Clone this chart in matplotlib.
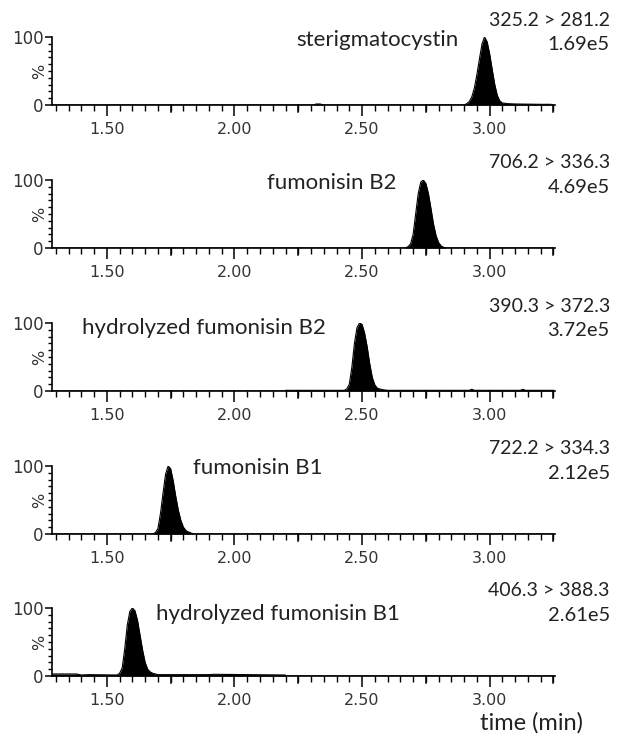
import numpy as np
from matplotlib import pyplot as plt
from matplotlib.ticker import MultipleLocator, FixedLocator

# traces (time in min, intensity in %)
t_ster = [1.285, 2.31, 2.32, 2.335, 2.35, 2.90, 2.91, 2.92, 2.93, 2.94, 2.95, 2.96, 2.97, 2.98,
          2.99, 3.00, 3.01, 3.02, 3.03, 3.04, 3.05, 3.07, 3.10, 3.20, 3.24]
i_ster = [0, 0, 1.5, 1.5, 0, 0, 2, 5, 12, 25, 45, 68, 90, 100,
          93, 75, 52, 30, 14, 6, 3, 2, 1.5, 1, 1]

t_fb2 = [1.285, 2.67, 2.68, 2.69, 2.70, 2.71, 2.72, 2.73, 2.74, 2.75, 2.76, 2.77,
         2.78, 2.79, 2.80, 2.81, 2.82, 2.83, 3.24]
i_fb2 = [0, 0, 2, 6, 20, 50, 80, 97, 100, 95, 80, 58,
         35, 18, 8, 3, 1, 0, 0]

t_hfb2 = [1.285, 2.199, 2.20, 2.43, 2.44, 2.45, 2.46, 2.47, 2.48, 2.49, 2.50, 2.51, 2.52,
          2.53, 2.54, 2.55, 2.56, 2.58, 2.60, 2.92, 2.93, 2.94, 3.12, 3.13, 3.14, 3.25]
i_hfb2 = [0, 0, 1, 1, 3, 10, 35, 70, 93, 100, 98, 85, 65,
          40, 20, 9, 4, 2, 1, 1, 2.5, 1, 1, 2.5, 1, 1]

t_fb1 = [1.285, 1.68, 1.69, 1.70, 1.71, 1.72, 1.73, 1.74, 1.75, 1.76, 1.77, 1.78,
         1.79, 1.80, 1.81, 1.82, 1.84, 3.24]
i_fb1 = [0, 0, 2, 8, 30, 60, 88, 100, 96, 78, 55, 35,
         20, 10, 5, 3, 0, 0]

t_hfb1 = [1.285, 1.38, 1.40, 1.43, 1.54, 1.55, 1.56, 1.57, 1.58, 1.59, 1.60, 1.61, 1.62,
          1.63, 1.64, 1.65, 1.66, 1.67, 1.68, 1.70, 1.72, 1.90, 1.92, 2.199, 2.20, 3.24]
i_hfb1 = [3, 3, 1.5, 2, 1.5, 4, 12, 40, 75, 95, 100, 96, 82,
          60, 38, 20, 10, 6, 4, 2, 2, 2, 2.5, 1.5, 0, 0]

names = ['sterigmatocystin', 'fumonisin B2', 'hydrolyzed fumonisin B2',
         'fumonisin B1', 'hydrolyzed fumonisin B1']
transitions = ['325.2 > 281.2', '706.2 > 336.3', '390.3 > 372.3',
               '722.2 > 334.3', '406.3 > 388.3']
intensities = ['1.69e5', '4.69e5', '3.72e5', '2.12e5', '2.61e5']
traces = [(t_ster, i_ster), (t_fb2, i_fb2), (t_hfb2, i_hfb2), (t_fb1, i_fb1), (t_hfb1, i_hfb1)]

# label placement in axes fraction (x left, y centre)
name_pos = [(0.485, 0.956), (0.427, 0.956), (0.060, 0.926), (0.280, 0.97), (0.207, 0.91)]
bottoms = [105, 248, 391, 534, 676]

txtfont = 'Lato'
txtcol = '#222222'

fig = plt.figure(figsize=(6.34, 7.36), dpi=100)

for k in range(5):
    b = 1 - bottoms[k] / 736
    ax = fig.add_axes([52 / 634, b, 503 / 634, 68 / 736])
    t, y = traces[k]
    ax.fill_between(t, 0, y, color='black', lw=0)
    ax.plot(t, y, color='black', lw=0.8)
    ax.set_xlim(1.285, 3.256)
    ax.set_ylim(0, 100)
    for s in ['top', 'right']:
        ax.spines[s].set_visible(False)
    for s in ['left', 'bottom']:
        ax.spines[s].set_linewidth(1.2)
    ax.xaxis.set_major_locator(FixedLocator([1.50, 2.00, 2.50, 3.00]))
    ax.xaxis.set_minor_locator(MultipleLocator(0.05))
    ax.set_xticklabels(['1.50', '2.00', '2.50', '3.00'])
    ax.yaxis.set_major_locator(FixedLocator([0, 100]))
    ax.yaxis.set_minor_locator(MultipleLocator(10))
    ax.set_yticklabels(['0', '100'])
    ax.tick_params(axis='x', which='major', length=8, width=1.1, labelsize=11.5, pad=4)
    ax.tick_params(axis='x', which='minor', length=4, width=1.0)
    ax.tick_params(axis='y', which='major', length=5, width=1.1, labelsize=12, pad=1)
    ax.tick_params(axis='y', which='minor', length=3, width=1.0)
    # longer ticks at each quarter minute
    for q in [1.75, 2.25, 2.75, 3.25]:
        ax.plot([q, q], [0, -11], color='black', lw=1.1, clip_on=False)
    for lab in ax.get_xticklabels() + ax.get_yticklabels():
        lab.set_family('DejaVu Sans')
        lab.set_color('#333333')
    ax.text(-0.024, 0.5, '%', transform=ax.transAxes, rotation=90, ha='center', va='center',
            fontsize=11.5, color='#333333')
    ax.text(name_pos[k][0], name_pos[k][1], names[k], transform=ax.transAxes,
            ha='left', va='center', fontsize=16, family=txtfont, color=txtcol)
    ax.text(1.109, 1.25, transitions[k], transform=ax.transAxes,
            ha='right', va='center', fontsize=14, family=txtfont, color=txtcol)
    ax.text(1.109, 0.897, intensities[k], transform=ax.transAxes,
            ha='right', va='center', fontsize=14.5, family=txtfont, color=txtcol)

fig.text(531 / 634, 1 - 723 / 736, 'time (min)', ha='center', va='center',
         fontsize=17, family=txtfont, color=txtcol)

fig.savefig('out.png', dpi=100)
